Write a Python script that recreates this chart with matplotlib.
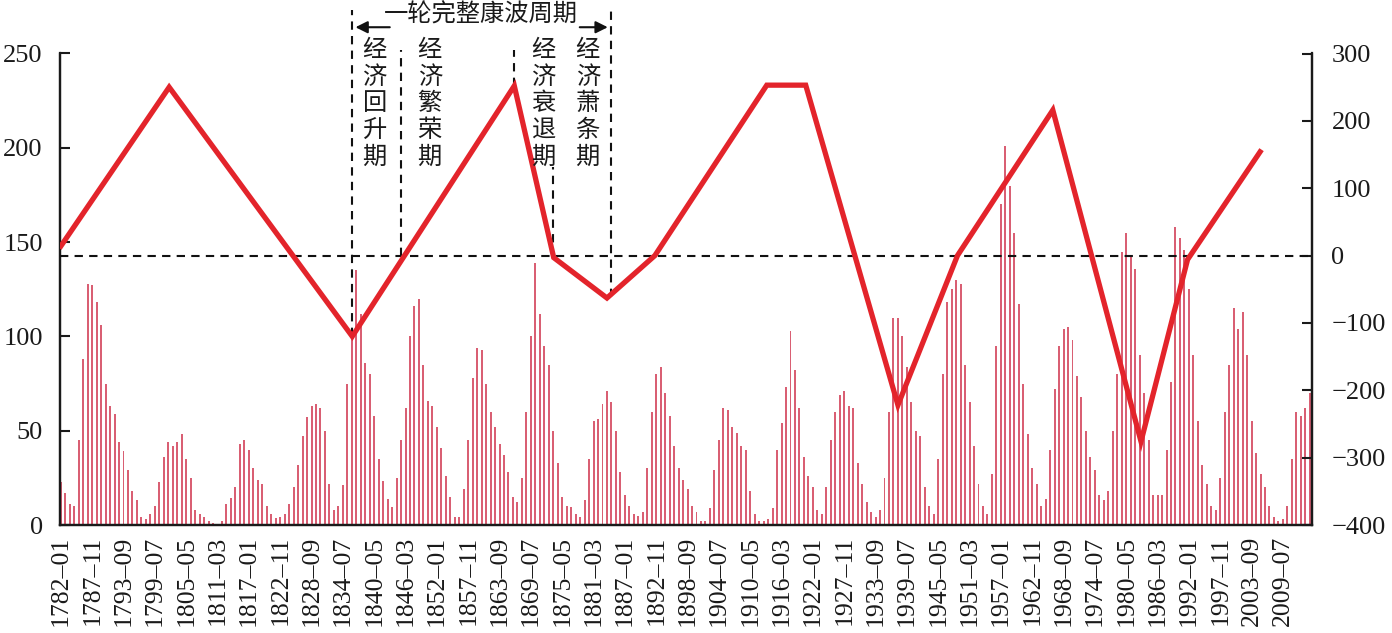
import numpy as np
import matplotlib
matplotlib.use("Agg")
import matplotlib.pyplot as plt

plt.rcParams['font.family'] = ['Liberation Serif', 'Noto Sans CJK SC', 'DejaVu Sans']

# ---------------- data ----------------
START_YEAR = 1782          # first bar = 1782-01
BAR_STEP = 10              # months between plotted bars
sunspots = [
    23, 17, 11, 10, 45, 88, 128, 127, 118, 106, 75, 63, 59, 44, 39, 29, 18, 13, 4.5, 3,
    6, 10, 23, 36, 44, 42, 44, 48, 35, 25, 8, 6, 4, 2, 1, 0.5, 2, 11, 14.5, 20,
    43, 45, 40, 30, 24, 22, 10, 6,
    3.5, 4, 6, 11, 20, 32, 47, 57, 63, 64, 62, 50, 22, 8, 10, 21, 75, 100, 135, 112,
    86, 80, 58, 35, 23.5, 14, 9.5, 25, 45, 62, 100, 116, 120, 85, 66, 63, 52, 41, 26, 15,
    4, 4.5, 19, 45, 78, 94, 93, 75, 60, 52, 43, 37, 28, 15, 12, 25, 60, 100, 139, 112,
    95, 85, 50, 33, 15, 10, 9.7, 6, 4, 13, 35, 55, 56, 64, 71, 65, 50, 28, 16, 10,
    6, 5, 7, 30, 60, 80, 84, 70, 58, 42, 30, 24, 19, 10, 7, 2, 2, 9, 29, 45,
    62, 61, 52, 49, 42, 40, 18, 6, 2, 2, 3, 9, 40, 54, 73, 103, 82, 62, 36, 26,
    20, 8, 6, 20, 45, 60, 69, 71, 63, 62, 33, 22, 12, 7, 4.4, 8, 25, 60, 110, 110,
    100,
    84, 65, 50, 47, 20, 10, 6, 35, 80, 118, 125, 130, 128, 85, 65, 42, 22, 10, 6, 27,
    95, 170, 201, 180, 155, 117, 75, 48, 30, 22, 10, 14, 40, 72, 95, 104, 105, 98, 79, 68,
    50, 36, 29, 16, 13, 18, 50,
    80, 145, 155, 142, 136, 90, 70, 45, 16, 16, 16, 40, 76, 158, 152, 146, 125, 90, 55, 32,
    22, 10, 8, 25, 60, 85, 115, 104, 113, 90, 55, 38, 27, 20, 10, 4, 2, 3, 10, 35,
    60, 58, 62, 70,
]

tick_labels = [
    "1782–01", "1787–11", "1793–09", "1799–07", "1805–05", "1811–03", "1817–01",
    "1822–11", "1828–09", "1834–07", "1840–05", "1846–03", "1852–01", "1857–11",
    "1863–09", "1869–07", "1875–05", "1881–03", "1887–01", "1892–11", "1898–09",
    "1904–07", "1910–05", "1916–03", "1922–01", "1927–11", "1933–09", "1939–07",
    "1945–05", "1951–03", "1957–01", "1962–11", "1968–09", "1974–07", "1980–05",
    "1986–03", "1992–01", "1997–11", "2003–09", "2009–07",
]
TICK_STEP = 70  # months between labels

# Kondratieff wave (right axis)
wave_dates = ["1782-01", "1802-03", "1836-04", "1866-06", "1873-10", "1883-09",
              "1892-08", "1913-06", "1920-09", "1937-11", "1948-12", "1966-09",
              "1983-02", "1991-10", "2005-04"]
wave_values = [14, 250, -120, 252, -3, -63, 0, 253, 253, -222, 0, 216, -276, -6, 154]

phase_names = ["经济回升期", "经济繁荣期", "经济衰退期", "经济萧条期"]
cycle_title = "一轮完整康波周期"


def month_index(s):
    y, m = s.split("-")
    return (int(y) - START_YEAR) * 12 + int(m) - 1


# ---------------- figure ----------------
fig = plt.figure(figsize=(13.92, 6.33), dpi=100)
ax = fig.add_axes([59.5 / 1392, 1 - 525 / 633, (1312 - 59.5) / 1392, (525 - 53.5) / 633])
ax2 = ax.twinx()

bar_x = np.arange(len(sunspots)) * BAR_STEP
ax.bar(bar_x, sunspots, width=4.4, color="#d95f73", linewidth=0, zorder=2)

ax.set_xlim(-3, 2795)
ax.set_ylim(0, 250)
ax.set_yticks([0, 50, 100, 150, 200, 250])
ax.set_xticks(np.arange(len(tick_labels)) * TICK_STEP)
ax.set_xticklabels(tick_labels, rotation=90, fontsize=18.5, color="#1a1a1a")
ax.tick_params(axis="x", length=0, pad=8)
ax.tick_params(axis="y", direction="in", length=7, width=1.5, labelsize=19,
               colors="#1a1a1a", pad=12)

ax2.set_ylim(-400, 300)
ax2.set_yticks([-400, -300, -200, -100, 0, 100, 200, 300])
ax2.tick_params(axis="y", direction="in", length=7, width=1.5, labelsize=19,
                colors="#1a1a1a", pad=14)

for a in (ax, ax2):
    a.spines["top"].set_visible(False)
    for s in ("left", "right", "bottom"):
        a.spines[s].set_linewidth(1.6)
        a.spines[s].set_color("#1a1a1a")

# zero line
ax2.axhline(0, color="#111111", lw=1.5, ls=(0, (4, 3)), zorder=3)

# wave line
wx = [month_index(d) for d in wave_dates]
ax2.plot(wx, wave_values, color="#e3242b", lw=3.8, zorder=5, solid_joinstyle="miter")

# phase dividers (dashed verticals)
div_dates = ["1836-04", "1845-05", "1866-06", "1873-09", "1884-06"]
div_top = [365, 305, 305, 131, 365]
div_bot = [-120, 0, 252, -2, -61]
for d, t, b in zip(div_dates, div_top, div_bot):
    ax2.plot([month_index(d)] * 2, [b, t], color="#111111", lw=1.5,
             ls=(0, (4, 3)), zorder=4, clip_on=False)

# phase labels (vertical text)
phase_x = ["1840-06", "1850-09", "1871-10", "1880-02"]
for name, d in zip(phase_names, phase_x):
    ax2.text(month_index(d), 226, "\n".join(name), ha="center", va="center",
             fontsize=17.5, linespacing=1.04, family=["Noto Sans CJK SC"],
             color="#1a1a1a", zorder=6)

# cycle span arrows and title
ya = 339
ax2.annotate("", xy=(month_index("1836-05"), ya), xytext=(month_index("1843-10"), ya),
             arrowprops=dict(arrowstyle="-|>", color="#111111", lw=1.5,
                             mutation_scale=18), annotation_clip=False)
ax2.annotate("", xy=(month_index("1884-05"), ya), xytext=(month_index("1878-02"), ya),
             arrowprops=dict(arrowstyle="-|>", color="#111111", lw=1.5,
                             mutation_scale=18), annotation_clip=False)
ax2.text(month_index("1860-04"), 358, cycle_title, ha="center", va="center",
         fontsize=17.5, family=["Noto Sans CJK SC"], color="#1a1a1a", clip_on=False)

fig.savefig("out.png", dpi=100, facecolor="white")
